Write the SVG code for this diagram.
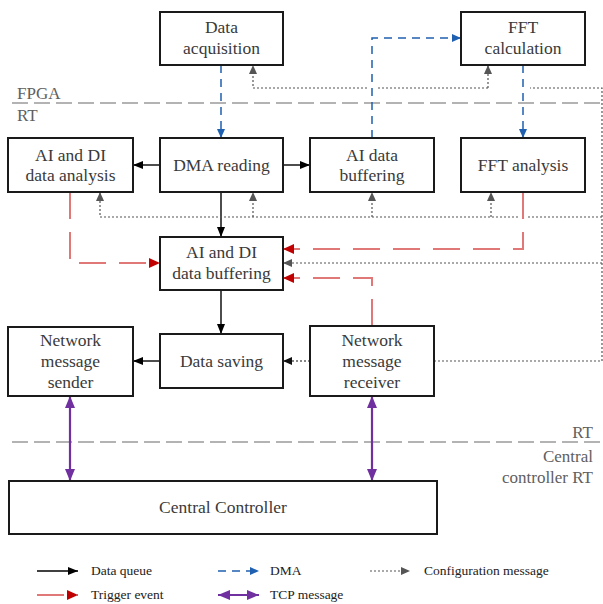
<svg xmlns="http://www.w3.org/2000/svg" width="603" height="604" viewBox="0 0 603 604">
<defs>
<style>
.box{fill:#fff;stroke:#1a1a1a;stroke-width:2}
text{font-family:'Liberation Serif','DejaVu Serif',serif}
.lbl{font-size:17.5px;fill:#3a3a3a;text-anchor:middle}
.zone{font-size:17px;fill:#606060}
.leg{font-size:13.5px;fill:#222}
.sep{fill:none;stroke:#9a9a9a;stroke-width:1.5;stroke-dasharray:16 6}
.dq{fill:none;stroke:#000;stroke-width:1.4}
.dma{fill:none;stroke:#1f60b0;stroke-width:1.5;stroke-dasharray:8 6}
.cfg{fill:none;stroke:#555;stroke-width:1.2;stroke-dasharray:2 2}
.cfgb{fill:none;stroke:#111;stroke-width:1.2;stroke-dasharray:2 2}
.trg{fill:none;stroke:#e07878;stroke-width:2;stroke-dasharray:27 13}
.tcp{fill:none;stroke:#7030a0;stroke-width:2.2}
</style>
<marker id="aBlack" markerUnits="userSpaceOnUse" markerWidth="10" markerHeight="8" refX="10" refY="4" orient="auto"><path d="M0,0 L10,4 L0,8 Z" fill="#000"/></marker>
<marker id="aBlue" markerUnits="userSpaceOnUse" markerWidth="9" markerHeight="8" refX="9" refY="4" orient="auto"><path d="M0,0 L9,4 L0,8 Z" fill="#1f60b0"/></marker>
<marker id="aGray" markerUnits="userSpaceOnUse" markerWidth="9" markerHeight="8" refX="9" refY="4" orient="auto"><path d="M0,0 L9,4 L0,8 Z" fill="#555"/></marker>
<marker id="aDark" markerUnits="userSpaceOnUse" markerWidth="9" markerHeight="8" refX="9" refY="4" orient="auto"><path d="M0,0 L9,4 L0,8 Z" fill="#111"/></marker>
<marker id="aRed" markerUnits="userSpaceOnUse" markerWidth="11" markerHeight="10" refX="11" refY="5" orient="auto"><path d="M0,0 L11,5 L0,10 Z" fill="#c00000"/></marker>
<marker id="aPur" markerUnits="userSpaceOnUse" markerWidth="12" markerHeight="10" refX="12" refY="5" orient="auto-start-reverse"><path d="M0,0 L12,5 L0,10 Z" fill="#7030a0"/></marker>
</defs>
<rect width="603" height="604" fill="#fff"/>

<g id="zones">
<path class="sep" d="M12,103 H603"/>
<path class="sep" d="M12,442 H603"/>
<text class="zone" x="17" y="99">FPGA</text>
<text class="zone" x="17" y="121">RT</text>
<text class="zone" x="593" y="438" text-anchor="end">RT</text>
<text class="zone" x="593" y="462" text-anchor="end">Central</text>
<text class="zone" x="593" y="483" text-anchor="end">controller RT</text>
</g>

<g id="connectors">
<path class="dq" d="M160,165 H133" marker-end="url(#aBlack)"/>
<path class="dq" d="M283,165 H310" marker-end="url(#aBlack)"/>
<path class="dq" d="M221,192 V237" marker-end="url(#aBlack)"/>
<path class="dq" d="M221,290 V334" marker-end="url(#aBlack)"/>
<path class="dq" d="M160,361 H133" marker-end="url(#aBlack)"/>
<path class="dma" d="M221,65 V138" marker-end="url(#aBlue)"/>
<path class="dma" d="M372,138 V38 H461" marker-end="url(#aBlue)"/>
<path class="dma" d="M523,65 V138" marker-end="url(#aBlue)"/>
<path class="cfg" d="M434,361 H602 V88 H530"/>
<path class="cfg" d="M488,88 H377"/>
<path class="cfg" d="M488,88 V65" marker-end="url(#aGray)"/>
<path class="cfg" d="M367,88 H253 V65" marker-end="url(#aGray)"/>
<path class="cfg" d="M602,217 H528"/>
<path class="cfg" d="M518,217 H100 V192" marker-end="url(#aGray)"/>
<path class="cfg" d="M253,217 V192" marker-end="url(#aGray)"/>
<path class="cfg" d="M372,217 V192" marker-end="url(#aGray)"/>
<path class="cfg" d="M491,217 V192" marker-end="url(#aGray)"/>
<path class="cfg" d="M602,263 H283" marker-end="url(#aGray)"/>
<path class="cfgb" d="M310,361 H283" marker-end="url(#aDark)"/>
<path class="trg" d="M70,192 V263 H160" marker-end="url(#aRed)"/>
<path class="trg" d="M523,192 V249 H283" marker-end="url(#aRed)"/>
<path class="trg" d="M372,326 V278 H283" marker-end="url(#aRed)"/>
<path class="tcp" d="M70,396 V481" marker-start="url(#aPur)" marker-end="url(#aPur)"/>
<path class="tcp" d="M372,396 V481" marker-start="url(#aPur)" marker-end="url(#aPur)"/>
</g>

<g id="n-data-acquisition"><rect class="box" x="160" y="12" width="123" height="53"/><text class="lbl" x="221.5" y="33">Data</text><text class="lbl" x="221.5" y="54">acquisition</text></g>
<g id="n-fft-calculation"><rect class="box" x="461" y="12" width="124" height="53"/><text class="lbl" x="523" y="33">FFT</text><text class="lbl" x="523" y="54">calculation</text></g>
<g id="n-ai-di-analysis"><rect class="box" x="8" y="138" width="125" height="54"/><text class="lbl" x="70.5" y="160.5">AI and DI</text><text class="lbl" x="70.5" y="181">data analysis</text></g>
<g id="n-dma-reading"><rect class="box" x="160" y="138" width="123" height="54"/><text class="lbl" x="221.5" y="171">DMA reading</text></g>
<g id="n-ai-data-buffering"><rect class="box" x="310" y="138" width="124" height="54"/><text class="lbl" x="372" y="160.5">AI data</text><text class="lbl" x="372" y="181">buffering</text></g>
<g id="n-fft-analysis"><rect class="box" x="461" y="138" width="124" height="54"/><text class="lbl" x="523" y="171">FFT analysis</text></g>
<g id="n-ai-di-buffering"><rect class="box" x="160" y="237" width="123" height="53"/><text class="lbl" x="221.5" y="258">AI and DI</text><text class="lbl" x="221.5" y="279">data buffering</text></g>
<g id="n-sender"><rect class="box" x="8" y="327" width="125" height="69"/><text class="lbl" x="70.5" y="346">Network</text><text class="lbl" x="70.5" y="367">message</text><text class="lbl" x="70.5" y="388">sender</text></g>
<g id="n-data-saving"><rect class="box" x="160" y="334" width="123" height="54"/><text class="lbl" x="221.5" y="367">Data saving</text></g>
<g id="n-receiver"><rect class="box" x="310" y="326" width="124" height="70"/><text class="lbl" x="372" y="346">Network</text><text class="lbl" x="372" y="367">message</text><text class="lbl" x="372" y="388">receiver</text></g>
<g id="n-central"><rect class="box" x="9" y="481" width="428" height="53"/><text class="lbl" x="223" y="513">Central Controller</text></g>

<g id="legend">
<path class="dq" d="M37,571 H78" marker-end="url(#aBlack)"/>
<text class="leg" x="91" y="575">Data queue</text>
<path class="dma" d="M218,571 H259" stroke-dasharray="9 5" marker-end="url(#aBlue)"/>
<text class="leg" x="270" y="575">DMA</text>
<path class="cfg" d="M370,571 H410" marker-end="url(#aGray)"/>
<text class="leg" x="424" y="575">Configuration message</text>
<path class="trg" d="M37,595 H78" stroke-dasharray="none" marker-end="url(#aRed)"/>
<text class="leg" x="91" y="599">Trigger event</text>
<path class="tcp" d="M218,595 H259" marker-start="url(#aPur)" marker-end="url(#aPur)"/>
<text class="leg" x="270" y="599">TCP message</text>
</g>
</svg>
